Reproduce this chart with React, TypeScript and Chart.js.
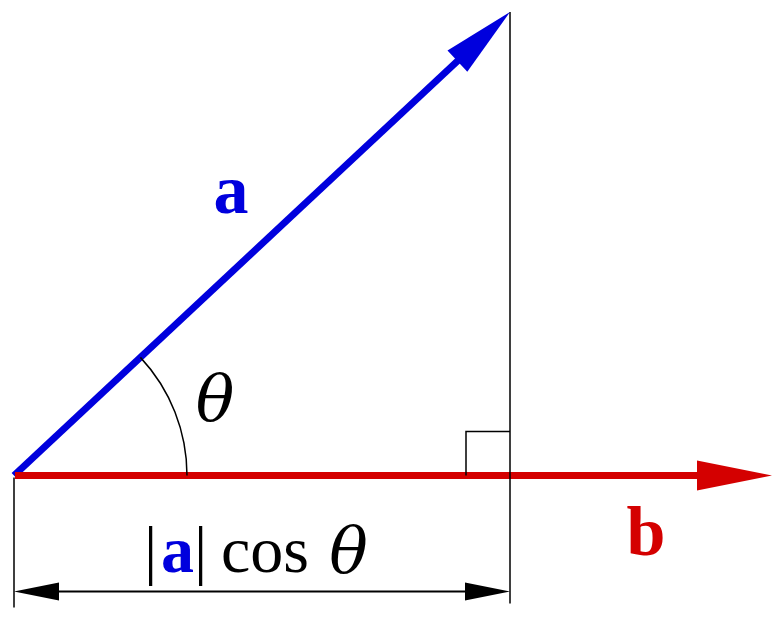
import { Chart, registerables } from 'chart.js';
import { useEffect, useRef } from 'react';

Chart.register(...registerables);

// vector components (origin at 0,0), units ~ pixels
const vecA: [number, number] = [496, 463.5];
const vecB: [number, number] = [758, 0];
// vertical extents of the guide lines below the b axis
const dimLineY = -116;
const extensionBottom = -132;
const rightAngleSize = 44;

const xRange = [-14, 766];
const yRange = [-143.5, 475.5];

const BLUE = '#0000dd';
const RED = '#d40000';

const headA = { len: 72, half: 14.5 };
const headB = { len: 75, half: 15 };
const headDim = { len: 45, half: 9 };

function shaftEnd(v: [number, number], len: number) {
	const m = Math.hypot(v[0], v[1]);
	return { x: v[0] - (v[0] / m) * (len - 2), y: v[1] - (v[1] / m) * (len - 2) };
}

const projection = (vecA[0] * vecB[0] + vecA[1] * vecB[1]) / Math.hypot(vecB[0], vecB[1]);
const theta = Math.atan2(vecA[1], vecA[0]) - Math.atan2(vecB[1], vecB[0]);

const diagramPlugin = {
	id: 'diagram',
	afterDatasetsDraw(chart: Chart) {
		const { ctx } = chart;
		const xs = chart.scales.x;
		const ys = chart.scales.y;
		const px = (v: number) => xs.getPixelForValue(v);
		const py = (v: number) => ys.getPixelForValue(v);

		const head = (tx: number, ty: number, dx: number, dy: number, len: number, half: number, color: string) => {
			const m = Math.hypot(dx, dy);
			const ux = dx / m;
			const uy = dy / m;
			const bx = tx - ux * len;
			const by = ty - uy * len;
			ctx.beginPath();
			ctx.moveTo(tx, ty);
			ctx.lineTo(bx - uy * half, by + ux * half);
			ctx.lineTo(bx + uy * half, by - ux * half);
			ctx.closePath();
			ctx.fillStyle = color;
			ctx.fill();
		};

		ctx.save();
		const ox = px(0);
		const oy = py(0);
		// arrowheads
		const ax = px(vecA[0]);
		const ay = py(vecA[1]);
		head(ax, ay, ax - ox, ay - oy, headA.len, headA.half, BLUE);
		const bx = px(vecB[0]);
		const by = py(vecB[1]);
		head(bx, by, bx - ox, by - oy, headB.len, headB.half, RED);
		const dy = py(dimLineY);
		const pEnd = px(projection);
		head(ox, dy, -1, 0, headDim.len, headDim.half, '#000');
		head(pEnd, dy, 1, 0, headDim.len, headDim.half, '#000');

		// angle arc
		ctx.beginPath();
		ctx.arc(ox, oy, 173, -theta, 0);
		ctx.strokeStyle = '#000';
		ctx.lineWidth = 1.5;
		ctx.stroke();

		// labels
		ctx.textBaseline = 'alphabetic';
		ctx.textAlign = 'center';
		ctx.fillStyle = BLUE;
		ctx.font = 'bold 70px "Liberation Serif"';
		ctx.fillText('a', px(217), py(262.5));
		ctx.fillStyle = RED;
		ctx.fillText('b', px(632), py(-79.5));
		ctx.fillStyle = '#000';
		ctx.font = 'italic 64px "DejaVu Serif"';
		ctx.fillText('θ', px(201), py(55.5));

		const base = py(-96.5);
		ctx.font = '66px "Liberation Serif"';
		ctx.fillText('|', px(136.5), base);
		ctx.fillText('|', px(186.5), base);
		ctx.fillText('cos', px(251), base);
		ctx.font = 'italic 64px "DejaVu Serif"';
		ctx.fillText('θ', px(334.5), base);
		ctx.fillStyle = BLUE;
		ctx.font = 'bold 66px "Liberation Serif"';
		ctx.fillText('a', px(163.5), base);
		ctx.restore();
	},
};

function App() {
	const chartRef = useRef<HTMLCanvasElement | null>(null);

	useEffect(() => {
		if (!chartRef.current) return;
		const endA = shaftEnd(vecA, headA.len);
		const endB = shaftEnd(vecB, headB.len);
		const thin = { borderColor: '#000', borderWidth: 1.5 };
		const line = (data: { x: number; y: number }[], style: object) => ({
			data,
			showLine: true,
			pointRadius: 0,
			fill: false,
			tension: 0,
			...style,
		});

		const chart = new Chart(chartRef.current, {
			type: 'scatter',
			data: {
				datasets: [
					line(
						[
							{ x: vecA[0], y: vecA[1] },
							{ x: vecA[0], y: extensionBottom + 4 },
						],
						thin,
					),
					line(
						[
							{ x: 0, y: -2 },
							{ x: 0, y: extensionBottom },
						],
						thin,
					),
					line(
						[
							{ x: headDim.len - 2, y: dimLineY },
							{ x: projection - headDim.len + 2, y: dimLineY },
						],
						{ borderColor: '#000', borderWidth: 2 },
					),
					line(
						[
							{ x: projection - rightAngleSize, y: 0 },
							{ x: projection - rightAngleSize, y: rightAngleSize },
							{ x: projection, y: rightAngleSize },
						],
						thin,
					),
					line(
						[
							{ x: 1, y: 0 },
							{ x: endB.x, y: endB.y },
						],
						{ borderColor: RED, borderWidth: 7 },
					),
					line(
						[
							{ x: 0, y: 0 },
							{ x: endA.x, y: endA.y },
						],
						{ borderColor: BLUE, borderWidth: 7 },
					),
				],
			},
			options: {
				animation: false,
				responsive: true,
				maintainAspectRatio: false,
				layout: { padding: 0 },
				plugins: { legend: { display: false }, tooltip: { enabled: false } },
				scales: {
					x: { type: 'linear', display: false, min: xRange[0], max: xRange[1] },
					y: { type: 'linear', display: false, min: yRange[0], max: yRange[1] },
				},
			},
			plugins: [diagramPlugin],
		});

		return () => {
			chart.destroy();
		};
	}, []);

	return (
		<div style={{ position: 'absolute', left: 0, top: 0, width: '780px', height: '619px', background: '#fff' }}>
			<canvas ref={chartRef}></canvas>
		</div>
	);
}
export default App;
